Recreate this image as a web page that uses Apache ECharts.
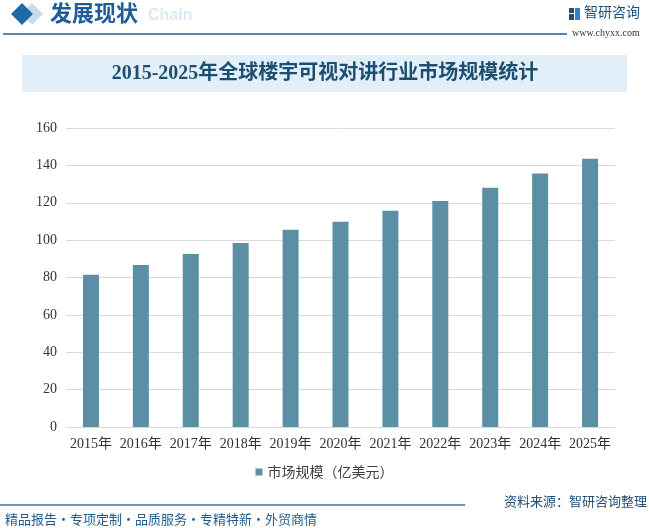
<!DOCTYPE html>
<html>
<head>
<meta charset="utf-8">
<script src="https://cdn.jsdelivr.net/npm/echarts@6/dist/echarts.min.js"></script>
<style>
html,body{margin:0;padding:0;background:#fff;}
#c{width:649px;height:528px;}
</style>
</head>
<body>
<div id="c"></div>
<script>
const categories = ['2015年','2016年','2017年','2018年','2019年','2020年','2021年','2022年','2023年','2024年','2025年'];
const marketSize = [81.5, 86.7, 92.6, 98.5, 105.5, 109.8, 115.7, 121.0, 128.0, 135.7, 143.5];
const seriesName = '市场规模（亿美元）';
const chartTitle = '2015-2025年全球楼宇可视对讲行业市场规模统计';
const yTicks = {min: 0, max: 160, interval: 20};

const chart = echarts.init(document.getElementById('c'), null, {renderer: 'canvas'});
const serif = "'Liberation Serif','Noto Sans CJK SC',serif";
const sans = "'Noto Sans CJK SC','Noto Sans',sans-serif";

chart.setOption({
  backgroundColor: '#ffffff',
  animation: false,
  grid: {left: 66, right: 34, top: 128, bottom: 101, containLabel: false},
  legend: {
    data: [seriesName],
    top: 460,
    left: 'center',
    itemWidth: 7,
    itemHeight: 7,
    icon: 'rect',
    textStyle: {fontSize: 14, color: '#404040', fontFamily: sans}
  },
  xAxis: {
    type: 'category',
    data: categories,
    axisLine: {lineStyle: {color: '#d9d9d9', width: 1}},
    axisTick: {show: false},
    axisLabel: {fontSize: 14, color: '#333', fontFamily: serif, margin: 10, interval: 0}
  },
  yAxis: {
    type: 'value',
    min: yTicks.min,
    max: yTicks.max,
    interval: yTicks.interval,
    axisLine: {show: false},
    axisTick: {show: false},
    splitLine: {lineStyle: {color: '#d9d9d9', width: 1}},
    axisLabel: {fontSize: 14, color: '#333', fontFamily: serif, margin: 9}
  },
  series: [{
    name: seriesName,
    type: 'bar',
    data: marketSize,
    barWidth: 16,
    itemStyle: {color: '#5B8FA5'}
  }],
  graphic: [
    {type: 'polygon', shape: {points: [[32,3],[43,14],[32,25],[21,14]]}, style: {fill: '#c9dcec'}, z: 1},
    {type: 'polygon', shape: {points: [[22,3],[33,14],[22,25],[11,14]]}, style: {fill: '#1f6aa5'}, z: 2},
    {type: 'text', left: 148, top: 8, style: {text: 'Chain', font: "bold 16px 'Liberation Sans',sans-serif", fill: '#dce9f4'}, z: 1},
    {type: 'text', left: 50, top: 2, style: {text: '发展现状', font: "bold 22px 'Noto Sans CJK SC',sans-serif", fill: '#1f5c99'}, z: 2},
    {type: 'line', shape: {x1: 3, y1: 34, x2: 567, y2: 34}, style: {stroke: '#1f5c99', lineWidth: 1.5}},
    {type: 'rect', shape: {x: 569, y: 8, width: 5, height: 5}, style: {fill: '#1f4e79'}},
    {type: 'rect', shape: {x: 569, y: 14, width: 5, height: 6}, style: {fill: '#1f4e79'}},
    {type: 'rect', shape: {x: 575, y: 8, width: 5, height: 12}, style: {fill: '#2e86c1'}},
    {type: 'text', left: 584, top: 5, style: {text: '智研咨询', font: "14px 'Noto Sans CJK SC',sans-serif", fill: '#1f4e79'}},
    {type: 'text', left: 572, top: 28, style: {text: 'www.chyxx.com', font: "10px 'Liberation Serif',serif", fill: '#333'}},
    {type: 'rect', shape: {x: 22, y: 55, width: 605, height: 37}, style: {fill: '#e3eff8'}},
    {type: 'text', x: 325, y: 74, style: {text: chartTitle, font: "bold 20px 'Liberation Serif','Noto Sans CJK SC',serif", fill: '#1b4f72', align: 'center', verticalAlign: 'middle'}},
    {type: 'line', shape: {x1: 0, y1: 505, x2: 465, y2: 505}, style: {stroke: '#2e75b6', lineWidth: 1.5}},
    {type: 'text', x: 647, y: 501, style: {text: '资料来源：智研咨询整理', font: "13px 'Noto Sans CJK SC',sans-serif", fill: '#1f4e79', align: 'right', verticalAlign: 'middle'}},
    {type: 'text', x: 5, y: 519, style: {text: '精品报告・专项定制・品质服务・专精特新・外贸商情', font: "13px 'Noto Sans CJK SC',sans-serif", fill: '#1f5c8c', align: 'left', verticalAlign: 'middle'}}
  ]
});
</script>
</body>
</html>
